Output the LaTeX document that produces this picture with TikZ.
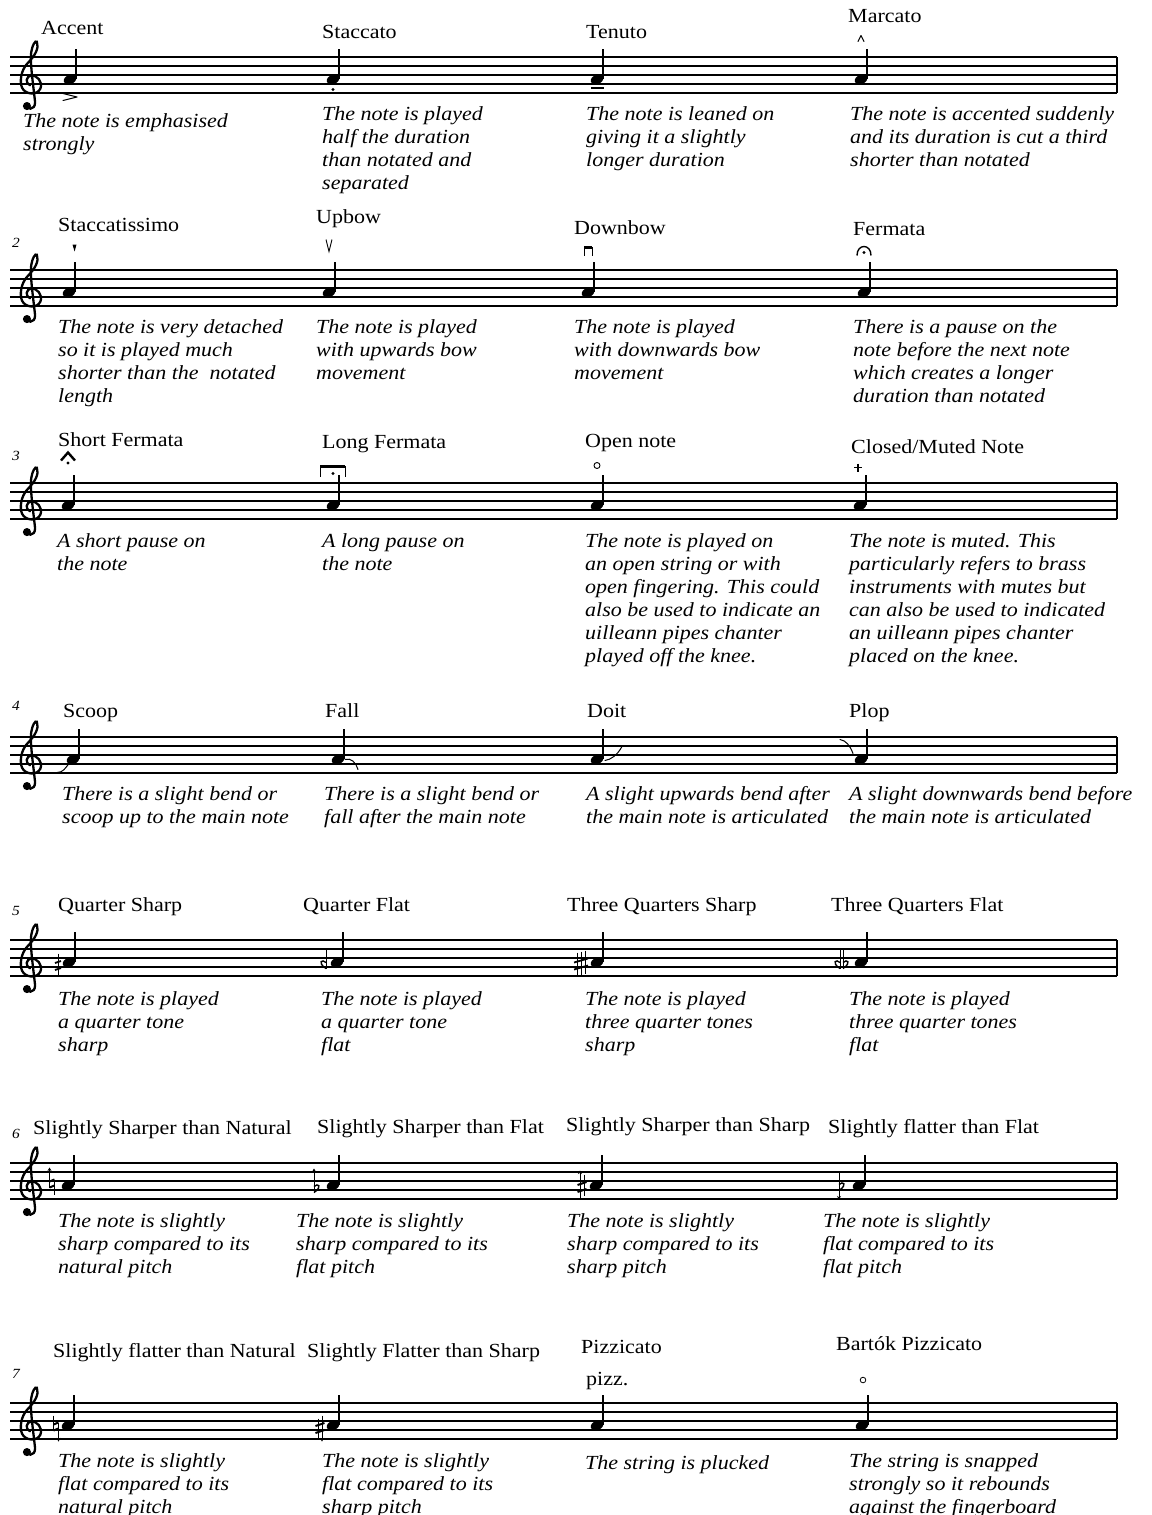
\documentclass[tikz,border=0pt]{standalone}
\usepackage{fontspec}
\setmainfont{Liberation Serif}[FakeStretch=1.1]
\usetikzlibrary{calc,arrows.meta}

\begin{document}
\begin{tikzpicture}[x=1pt,y=-1pt]
        % Define the styles for the texts and the parts of the notes
        \tikzstyle{title}=[anchor=base west, inner sep=0pt, font=\fontsize{20}{23}\selectfont];
        \tikzstyle{desc}=[anchor=north west, inner sep=0pt, align=left, font=\fontsize{20}{23}\selectfont\itshape, execute at begin node=\strut];
        \tikzstyle{rownum}=[anchor=base west, inner sep=0pt, font=\fontsize{14}{16}\selectfont\itshape];
        \tikzstyle{staffline}=[line width=1.2pt];
        \tikzstyle{stem}=[line width=1.4pt];
        \tikzstyle{artic}=[line width=1pt, line cap=round, line join=round];
        \tikzstyle{microarrow}=[line width=0.9pt, -{Stealth[length=3.5pt, width=4pt]}];

        % Define the accidentals
        \tikzset{
          flatsign/.pic={
            \draw[line width=0.9pt] (0,-14) -- (0,5);
            \draw[line width=1.4pt] (0,-1) .. controls (4,-5) and (9,-1) .. (0,5);
          },
          revflat/.pic={
            \draw[line width=0.9pt] (0,-14) -- (0,5);
            \draw[line width=1.4pt] (0,-1) .. controls (-4,-5) and (-9,-1) .. (0,5);
          },
          sharpsign/.pic={
            \draw[line width=0.9pt] (-2,-9) -- (-2,12) (2,-12) -- (2,9);
            \draw[line width=2pt] (-4.5,-1.5) -- (4.5,-4.5) (-4.5,5.5) -- (4.5,2.5);
          },
          naturalsign/.pic={
            \draw[line width=0.9pt] (-2.5,-11) -- (-2.5,4) (2.5,-4) -- (2.5,11);
            \draw[line width=2pt] (-2.5,-2) -- (2.5,-4) (-2.5,4) -- (2.5,2);
          },
          halfsharp/.pic={
            \draw[line width=0.9pt] (0,-11) -- (0,11);
            \draw[line width=1.8pt] (-3,-1.5) -- (3,-3.5) (-3,5.5) -- (3,3.5);
          },
          threeqsharp/.pic={
            \draw[line width=0.9pt] (-4,-11) -- (-4,12) (0,-12) -- (0,11) (4,-13) -- (4,10);
            \draw[line width=1.8pt] (-7,-1) -- (7,-5) (-7,6) -- (7,2);
          }
        }

        % Paper and margins
        \fill[white] (0,0) rectangle (1151,1515);
        \useasboundingbox (0,0) rectangle (1151,1515);

        % Staves, clefs and the four notes of every row
        \foreach \row/\sy/\xa/\xb/\xc/\xd in {1/57/70/333/597/861, 2/270/69/329/588/864, 3/483/68/333/597/860, 4/737/73/338/597/861, 5/940/69/337/597/861, 6/1163/68/333/596/859, 7/1403/68/333/597/862} {
          \foreach \l in {0,...,4}
            \draw[staffline] (10,\sy+9*\l) -- (1117,\sy+9*\l);
          \draw[staffline] (1117,\sy) -- (1117,\sy+36);
          \begin{scope}[shift={(31,\sy+27)}, x=9pt, y=9pt]
            \draw[line width=2.3pt, line cap=round] (-0.55,-2.2) .. controls (-0.6,-2.9) and (0.5,-3.0) .. (0.45,-2.0)
              .. controls (0.3,-0.5) and (-0.1,2.2) .. (0.0,3.3)
              .. controls (0.1,4.3) and (0.5,4.9) .. (0.65,4.7)
              .. controls (0.95,4.0) and (0.4,3.1) .. (-0.3,2.4)
              .. controls (-1.2,1.5) and (-1.25,0.2) .. (-1.0,-0.4)
              .. controls (-0.65,-1.2) and (0.7,-1.3) .. (1.05,-0.5)
              .. controls (1.35,0.3) and (0.6,1.0) .. (0.05,0.95)
              .. controls (-0.55,0.9) and (-0.7,0.1) .. (-0.1,-0.15);
            \fill (-0.45,-2.45) circle (0.45);
          \end{scope}
          \foreach \x [count=\k] in {\xa,\xb,\xc,\xd} {
            \coordinate (n\row-\k) at (\x,\sy+22.5);
            \fill[rotate around={20:(n\row-\k)}] (n\row-\k) ellipse (6.5 and 4.5);
            \draw[stem] ($(n\row-\k)+(5.8,-1)$) -- ++(0,-30);
          }
        }

        % Row 1
        \node[title] (accent) at (41,34) {Accent};
        \node[title] (staccato) at (322,38) {Staccato};
        \node[title] (tenuto) at (586,38) {Tenuto};
        \node[title] (marcato) at (848,23) {Marcato};
        \draw[artic, shift={(n1-1)}] (-7,14) -- (7,17.5) -- (-7,21);
        \fill[shift={(n1-2)}] (0,10) circle (1.7);
        \draw[line width=1.6pt, shift={(n1-3)}] (-6,8.5) -- (7,8.5);
        \draw[artic, shift={(n1-4)}] (-3,-38) -- (0,-44) -- (3,-38);
        \node[desc] (accentd) at (23,113) {The note is emphasised\\strongly};
        \node[desc] (staccatod) at (322,106) {The note is played\\half the duration\\than notated and\\separated};
        \node[desc] (tenutod) at (586,106) {The note is leaned on\\giving it a slightly\\longer duration};
        \node[desc] (marcatod) at (850,106) {The note is accented suddenly\\and its duration is cut a third\\shorter than notated};

        % Row 2
        \node[rownum] (num2) at (12,247) {2};
        \node[title] (staccatissimo) at (58,231) {Staccatissimo};
        \node[title] (upbow) at (316,223) {Upbow};
        \node[title] (downbow) at (574,234) {Downbow};
        \node[title] (fermata) at (853,235) {Fermata};
        \fill[shift={(n2-1)}] (3.5,-48) -- (7.5,-48) -- (5.6,-41) -- cycle;
        \draw[line width=0.9pt, shift={(n2-2)}] (-3,-53) -- (0,-41) -- (3,-53);
        \draw[line width=1pt, shift={(n2-3)}] (-4,-37) -- (-4,-45) -- (4,-45) -- (4,-37);
        \draw[line width=2.4pt, shift={(n2-3)}] (-4,-45) -- (4,-45);
        \draw[line width=1.4pt, shift={(n2-4)}] (-7,-37) .. controls (-7,-49) and (7,-49) .. (7,-37);
        \fill[shift={(n2-4)}] (0,-40) circle (1.6);
        \node[desc] (staccatissimod) at (58,319) {The note is very detached\\so it is played much\\shorter than the~ notated\\length};
        \node[desc] (upbowd) at (316,319) {The note is played\\with upwards bow\\movement};
        \node[desc] (downbowd) at (574,319) {The note is played\\with downwards bow\\movement};
        \node[desc] (fermatad) at (853,319) {There is a pause on the\\note before the next note\\which creates a longer\\duration than notated};

        % Row 3
        \node[rownum] (num3) at (12,460) {3};
        \node[title] (shortferm) at (58,446) {Short Fermata};
        \node[title] (longferm) at (322,448) {Long Fermata};
        \node[title] (opennote) at (585,447) {Open note};
        \node[title] (closednote) at (851,453) {Closed/Muted Note};
        \draw[line width=2.4pt, shift={(n3-1)}] (-7,-45) -- (0,-53) -- (7,-45);
        \fill[shift={(n3-1)}] (0,-42.5) circle (1.6);
        \draw[line width=1pt, shift={(n3-2)}] (-13,-29) -- (-13,-39) -- (12,-39) -- (12,-29);
        \draw[line width=2.6pt, shift={(n3-2)}] (-13,-39) -- (12,-39);
        \fill[shift={(n3-2)}] (0,-32) circle (1.6);
        \draw[line width=0.9pt, shift={(n3-3)}] (0,-40) circle (3);
        \draw[line width=1.6pt, shift={(n3-4)}] (-2,-42) -- (-2,-34) (-6,-38) -- (2,-38);
        \node[desc] (shortfermd) at (57,533) {A short pause on\\the note};
        \node[desc] (longfermd) at (322,533) {A long pause on\\the note};
        \node[desc] (opennoted) at (585,533) {The note is played on\\an open string or with\\open fingering. This could\\also be used to indicate an\\uilleann pipes chanter\\played off the knee.};
        \node[desc] (closednoted) at (849,533) {The note is muted. This\\particularly refers to brass\\instruments with mutes but\\can also be used to indicated\\an uilleann pipes chanter\\placed on the knee.};

        % Row 4
        \node[rownum] (num4) at (12,710) {4};
        \node[title] (scoop) at (63,717) {Scoop};
        \node[title] (fall) at (325,717) {Fall};
        \node[title] (doit) at (587,717) {Doit};
        \node[title] (plop) at (849,717) {Plop};
        \draw[artic, shift={(n4-1)}] (-16,13) .. controls (-10,13) and (-8,9) .. (-4,4);
        \draw[artic, shift={(n4-2)}] (7,0) .. controls (13,-2) and (18,3) .. (20,10);
        \draw[artic, shift={(n4-3)}] (8,1) .. controls (14,0) and (20,-4) .. (25,-13);
        \draw[artic, shift={(n4-4)}] (-21,-20) .. controls (-15,-19) and (-11,-14) .. (-8,-6);
        \node[desc] (scoopd) at (62,786) {There is a slight bend or\\scoop up to the main note};
        \node[desc] (falld) at (324,786) {There is a slight bend or\\fall after the main note};
        \node[desc] (doitd) at (586,786) {A slight upwards bend after\\the main note is articulated};
        \node[desc] (plopd) at (849,786) {A slight downwards bend before\\the main note is articulated};

        % Row 5
        \node[rownum] (num5) at (12,915) {5};
        \node[title] (qsharp) at (58,911) {Quarter Sharp};
        \node[title] (qflat) at (303,911) {Quarter Flat};
        \node[title] (tqsharp) at (567,911) {Three Quarters Sharp};
        \node[title] (tqflat) at (831,911) {Three Quarters Flat};
        \pic at ($(n5-1)+(-11,2)$) {halfsharp};
        \pic at ($(n5-2)+(-11,1)$) {revflat};
        \pic at ($(n5-3)+(-16,1)$) {threeqsharp};
        \pic at ($(n5-4)+(-21,1)$) {revflat};
        \pic at ($(n5-4)+(-18,1)$) {flatsign};
        \node[desc] (qsharpd) at (58,991) {The note is played\\a quarter tone\\sharp};
        \node[desc] (qflatd) at (321,991) {The note is played\\a quarter tone\\flat};
        \node[desc] (tqsharpd) at (585,991) {The note is played\\three quarter tones\\sharp};
        \node[desc] (tqflatd) at (849,991) {The note is played\\three quarter tones\\flat};

        % Row 6
        \node[rownum] (num6) at (12,1138) {6};
        \node[title] (sharpnat) at (33,1134) {Slightly Sharper than Natural};
        \node[title] (sharpflat) at (317,1133) {Slightly Sharper than Flat};
        \node[title] (sharpsharp) at (566,1131) {Slightly Sharper than Sharp};
        \node[title] (flatflat) at (828,1133) {Slightly flatter than Flat};
        \pic at ($(n6-1)+(-16,-2)$) {naturalsign};
        \draw[microarrow, shift={(n6-1)}] (-18.5,-12) -- (-18.5,-18);
        \pic at ($(n6-2)+(-19,2)$) {flatsign};
        \draw[microarrow, shift={(n6-2)}] (-19,-11) -- (-19,-17);
        \pic at ($(n6-3)+(-14,1)$) {sharpsign};
        \draw[microarrow, shift={(n6-3)}] (-16,-7) -- (-16,-15);
        \pic at ($(n6-4)+(-20,0)$) {flatsign};
        \draw[microarrow, shift={(n6-4)}] (-20,4) -- (-20,14);
        \node[desc] (sharpnatd) at (58,1213) {The note is slightly\\sharp compared to its\\natural pitch};
        \node[desc] (sharpflatd) at (296,1213) {The note is slightly\\sharp compared to its\\flat pitch};
        \node[desc] (sharpsharpd) at (567,1213) {The note is slightly\\sharp compared to its\\sharp pitch};
        \node[desc] (flatflatd) at (823,1213) {The note is slightly\\flat compared to its\\flat pitch};

        % Row 7
        \node[rownum] (num7) at (12,1378) {7};
        \node[title] (flatnat) at (53,1357) {Slightly flatter than Natural};
        \node[title] (flatsharp) at (307,1357) {Slightly Flatter than Sharp};
        \node[title] (pizzicato) at (581,1353) {Pizzicato};
        \node[title] (pizz) at (586,1385) {pizz.};
        \node[title] (bartok) at (836,1350) {Bartók Pizzicato};
        \pic at ($(n7-1)+(-12,1)$) {naturalsign};
        \draw[microarrow, shift={(n7-1)}] (-9.5,10) -- (-9.5,16);
        \pic at ($(n7-2)+(-13,2)$) {sharpsign};
        \draw[microarrow, shift={(n7-2)}] (-11,9) -- (-11,16);
        \draw[line width=0.8pt, shift={(n7-4)}] (1,-45.5) circle (2.8);
        \node[desc] (flatnatd) at (58,1453) {The note is slightly\\flat compared to its\\natural pitch};
        \node[desc] (flatsharpd) at (322,1453) {The note is slightly\\flat compared to its\\sharp pitch};
        \node[desc] (pizzicatod) at (585,1453) {The string is plucked};
        \node[desc] (bartokd) at (849,1453) {The string is snapped\\strongly so it rebounds\\against the fingerboard};
\end{tikzpicture}
\end{document}
